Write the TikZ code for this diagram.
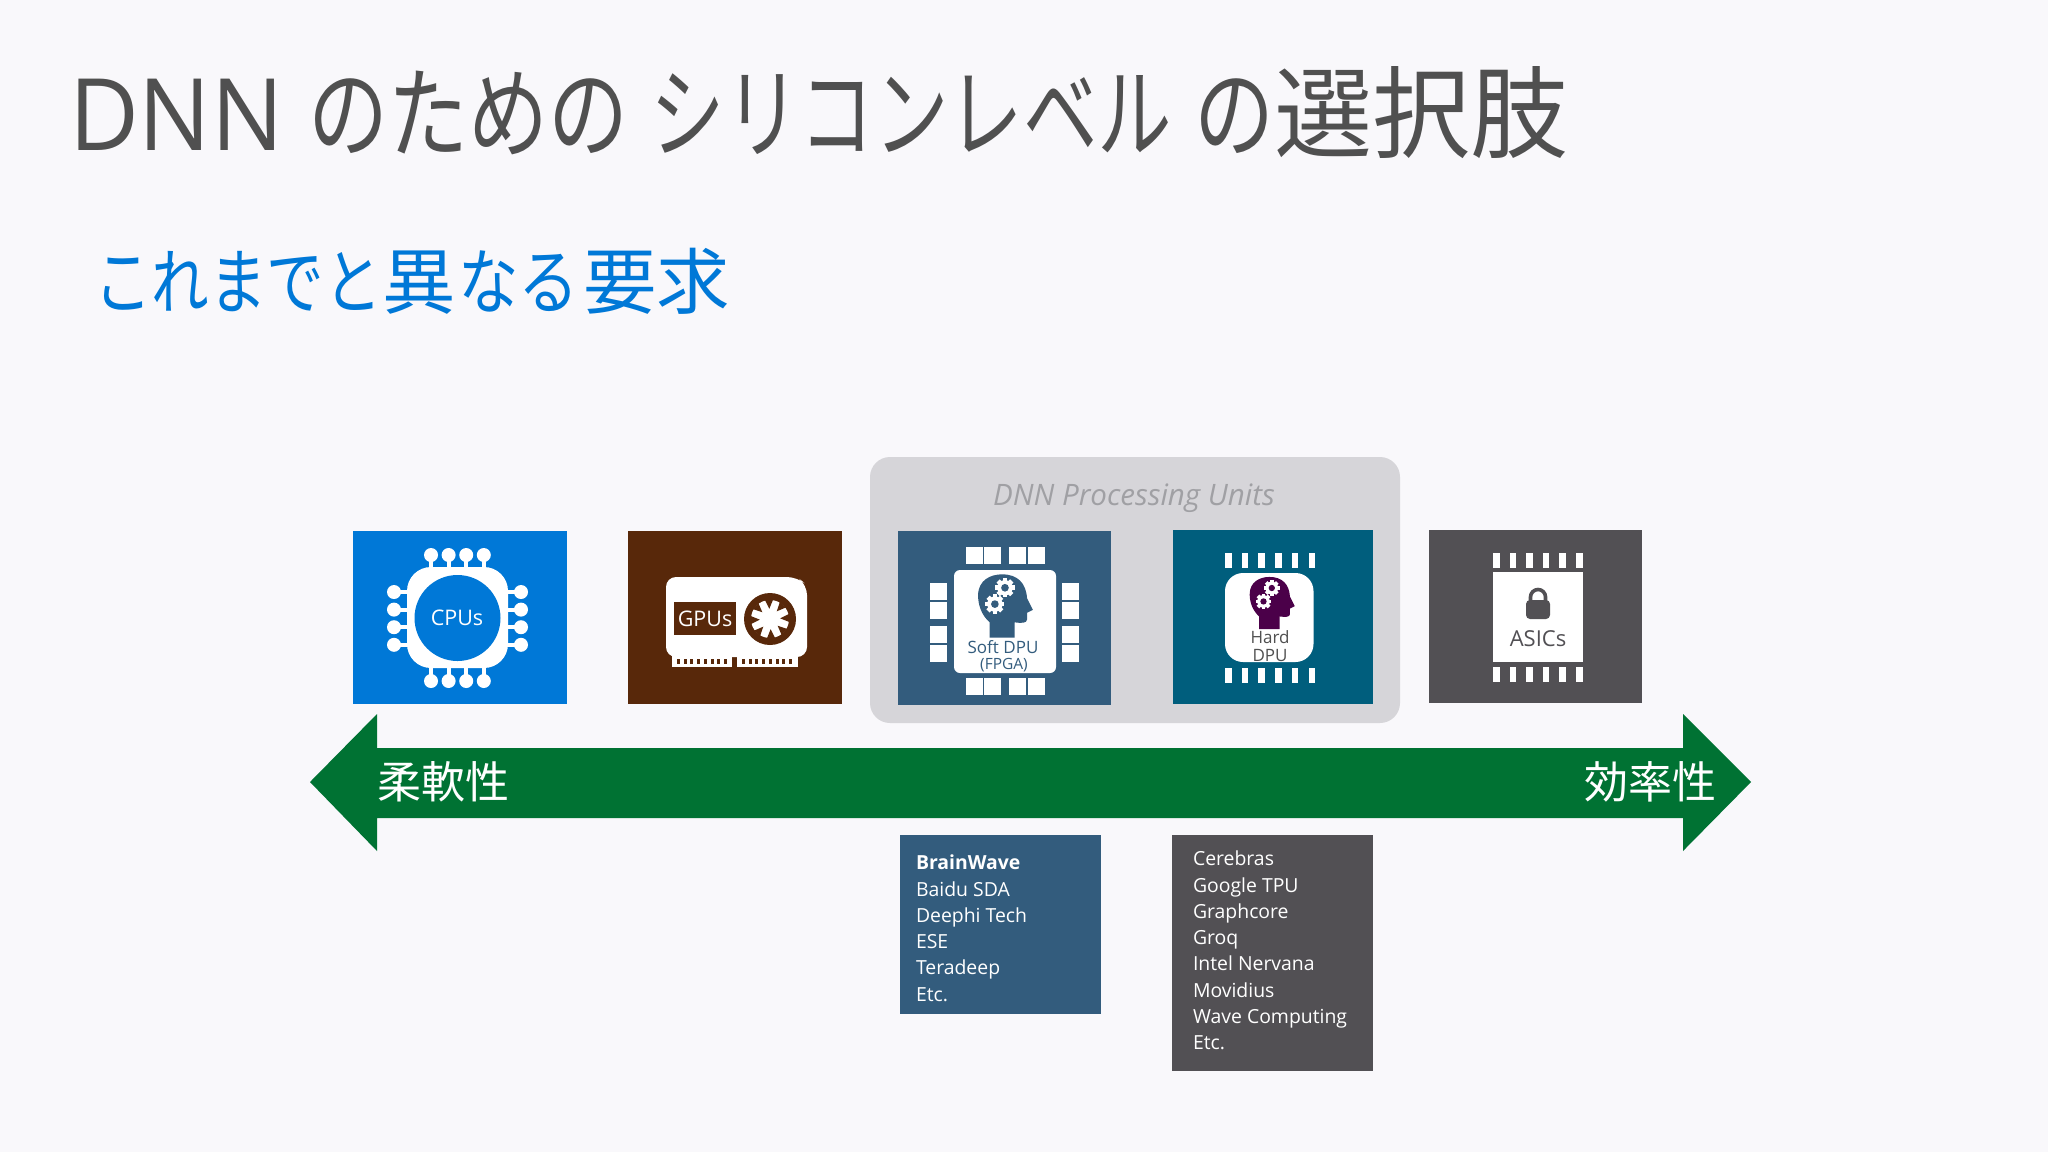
\documentclass[tikz,border=0pt]{standalone}
\usepackage{fontspec}
\setmainfont{Open Sans}
\newfontfamily\cjk{Noto Sans CJK JP}
\newfontfamily\cjkA[FakeStretch=0.80]{Noto Sans CJK JP}
\newfontfamily\cjkB[FakeStretch=0.745]{Noto Sans CJK JP}
\newfontfamily\cjkC[FakeStretch=0.98]{Noto Sans CJK JP}
\newfontfamily\cjkD[FakeStretch=0.84]{Noto Sans CJK JP}
\newfontfamily\cjkE[FakeStretch=1.02]{Noto Sans CJK JP}
\newfontfamily\lat[FakeStretch=0.96]{Open Sans}
\definecolor{bgc}{HTML}{F9F8FB}
\definecolor{titlec}{HTML}{505050}
\definecolor{subc}{HTML}{0078D7}
\definecolor{cpuc}{HTML}{0078D7}
\definecolor{gpuc}{HTML}{58280A}
\definecolor{softc}{HTML}{335C7D}
\definecolor{hardc}{HTML}{005E7D}
\definecolor{asicc}{HTML}{525054}
\definecolor{panelc}{HTML}{D6D5D9}
\definecolor{dputext}{HTML}{A0A0A4}
\definecolor{arrowc}{HTML}{007233}
\definecolor{purplec}{HTML}{4B0049}
\newcommand{\fs}[1]{\fontsize{\fpeval{#1*0.5}}{\fpeval{#1*0.6}}\selectfont}
\tikzset{
 x=0.5pt,y=-0.5pt,
 lab/.style={inner sep=0pt,outer sep=0pt},
 listtext/.style={inner sep=0pt,outer sep=0pt,anchor=north west,text=white,align=left,font=\fontsize{9.7}{13.15}\selectfont},
}
\newcommand{\headicon}[3]{%
 \begin{scope}[shift={(#1,#2)},scale=#3]
  \fill[headcol] (-15,33) -- (-15,17) .. controls (-24,9) and (-27,-2) .. (-27,-11)
   .. controls (-27,-27) and (-14,-33) .. (-2,-33) .. controls (14,-33) and (23,-24) .. (24,-8)
   -- (30,4) -- (24,7) -- (24,14) .. controls (24,18) and (18,18) .. (11,17) -- (11,33) -- cycle;
  \foreach \gx/\gy/\gr in {1/-19/10,-9.5/-2/10}{
   \fill[white] (\gx,\gy) circle (\gr*0.8);
   \foreach \a in {0,45,...,135}{\fill[white,shift={(\gx,\gy)},rotate=\a] (-2.4,-\gr) rectangle (2.4,\gr);}
   \fill[headcol] (\gx,\gy) circle (\gr*0.4);
  }
 \end{scope}}
\begin{document}
\begin{tikzpicture}
\useasboundingbox (0,0) rectangle (2048,1152);
\fill[bgc] (0,0) rectangle (2048,1152);
\node[lab,anchor=west,text=titlec] (title) at (69,113) {\fs{100}\lat DNN \cjkA のための\kern2pt{} \cjkB シリコンレベル\kern3pt{} \cjkA の\cjkC 選択肢};
\node[lab,anchor=west,text=subc] (sub) at (94,281) {\fs{72}\cjkA これまでと\cjkE 異\kern1.5pt\cjkD なる\kern2pt\cjkE 要求};
% panel
\fill[panelc,rounded corners=10] (870,457) rectangle (1400,723);
\node[lab,text=dputext] (dpu) at (1134,498) {\fs{29.5}\itshape DNN Processing Units};
% CPU
\fill[cpuc] (353,531) rectangle (567,704);
\foreach \i in {0,1,2,3}{
  \pgfmathsetmacro{\px}{431+\i*17.6}
  \fill[white] (\px,555) circle (7); \fill[white] (\px,681) circle (7);
  \draw[white,line width=2] (\px,555) -- (\px,590); \draw[white,line width=2] (\px,681) -- (\px,650);
  \pgfmathsetmacro{\py}{592+\i*17.6}
  \fill[white] (394,\py) circle (7); \fill[white] (521,\py) circle (7);
  \draw[white,line width=2] (394,\py) -- (420,\py); \draw[white,line width=2] (521,\py) -- (500,\py);
}
\fill[white,rounded corners=12] (407,567) rectangle (508,668);
\fill[cpuc] (457.5,618) circle (43);
\node[lab,text=white] (cpu) at (457,618) {\fs{21.5}CPUs};
% GPU
\fill[gpuc] (628,531) rectangle (842,704);
\fill[white,rounded corners=5] (666,577) -- (797,577) -- (807,585) -- (807,657) -- (666,657) -- cycle;
\fill[white] (672,650) rectangle (732,667);
\fill[white] (737,650) rectangle (798,667);
\fill[gpuc] (674,602) rectangle (736,635);
\node[lab,text=white] (gpu) at (705,618.5) {\fs{21.5}GPUs};
\fill[gpuc] (770,619) circle (26);
\fill[white] (770,619) circle (19);
\foreach \a in {15,60,...,330}{\fill[gpuc,rotate around={\a:(770,619)}] (770,599) -- (778,601) -- (772,609) -- cycle;}
\foreach \i in {0,...,7}{
 \fill[gpuc] ({677+\i*6.7},659) rectangle ({680+\i*6.7},664);
 \fill[gpuc] ({742+\i*6.7},659) rectangle ({745+\i*6.7},664);
}
% Soft
\fill[softc] (898,531) rectangle (1111,705);
\foreach \sx in {966,984,1009,1028}{
 \fill[white] (\sx,547) rectangle +(17,16.5);
 \fill[white] (\sx,678) rectangle +(17,16.5);
}
\foreach \sy in {583,602,626,645}{
 \fill[white] (930,\sy) rectangle +(17,16.5);
 \fill[white] (1062,\sy) rectangle +(17,16.5);
}
\fill[white,rounded corners=3] (954,570) rectangle (1056,673);
\colorlet{headcol}{softc}
\headicon{1004}{606}{0.96}
\node[lab,text=softc] (soft) at (1003,647) {\fs{17}Soft DPU};
\node[lab,text=softc] (fpga) at (1004,665) {\fs{15.5}(FPGA)};
% Hard
\fill[hardc] (1173,530) rectangle (1373,704);
\foreach \i in {0,...,5}{
 \fill[white] ({1225+\i*16.7},553) rectangle +(6.5,15);
 \fill[white] ({1225+\i*16.7},668) rectangle +(6.5,15);
}
\fill[white,rounded corners=9] (1225,573) rectangle (1313.5,662);
\colorlet{headcol}{purplec}
\headicon{1271}{603}{0.79}
\node[lab,text=titlec] (hard) at (1270,637) {\fs{17}Hard};
\node[lab,text=titlec] (hdpu) at (1270,655) {\fs{17}DPU};
% ASIC
\fill[asicc] (1429,530) rectangle (1642,703);
\foreach \i in {0,...,5}{
 \fill[white] ({1493+\i*16.6},553) rectangle +(6.5,15);
 \fill[white] ({1493+\i*16.6},667) rectangle +(6.5,15);
}
\fill[white] (1493,572) rectangle (1583,662);
\fill[asicc,rounded corners=2] (1526,600) rectangle (1550,619);
\draw[asicc,line width=1.8] (1530.5,601) -- (1530.5,597) arc[start angle=180,end angle=360,radius=7.5] -- (1545.5,601);
\node[lab,text=asicc] (asic) at (1538,639) {\fs{22}ASICs};
% arrow
\fill[arrowc] (310,782) -- (377,714) -- (377,748) -- (1683,748) -- (1683,714) -- (1751,782) -- (1683,851) -- (1683,818) -- (377,818) -- (377,851) -- cycle;
\node[lab,anchor=west,text=white] (flex) at (377,782) {\fs{44}\cjk 柔軟性};
\node[lab,anchor=east,text=white] (eff) at (1716,782) {\fs{44}\cjk 効率性};
% lists
\fill[softc] (900,835) rectangle (1101,1014);
\node[listtext] (l1) at (916,855) {\textbf{BrainWave}\\Baidu SDA\\Deephi Tech\\ESE\\Teradeep\\Etc.};
\fill[asicc] (1172,835) rectangle (1373,1071);
\node[listtext] (l2) at (1193,851) {Cerebras\\Google TPU\\Graphcore\\Groq\\Intel Nervana\\Movidius\\Wave Computing\\Etc.};
\end{tikzpicture}
\end{document}
